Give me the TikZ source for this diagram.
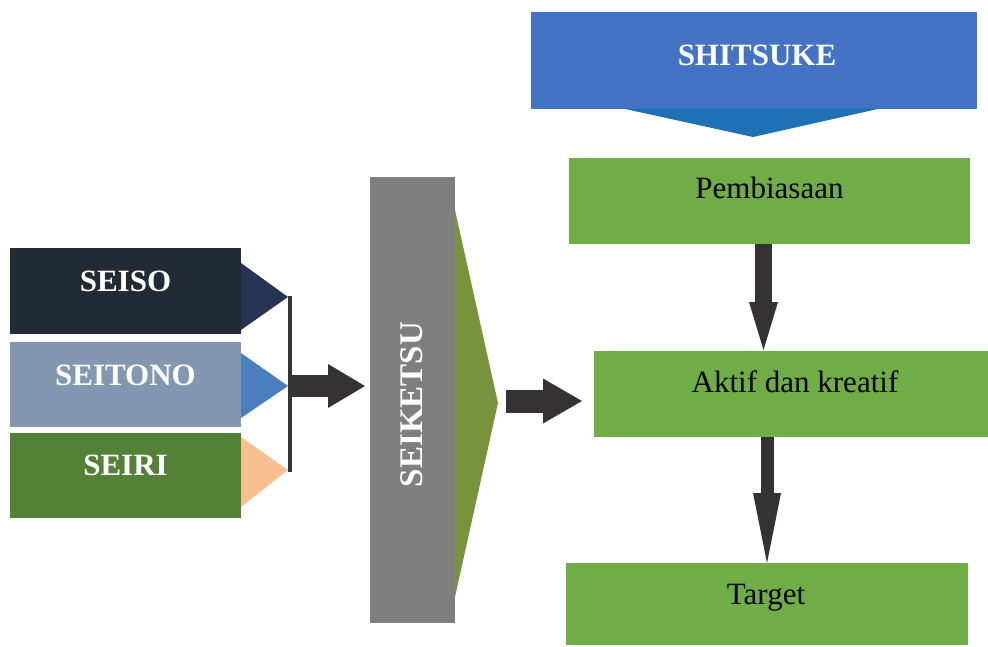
\documentclass[tikz,border=0pt]{standalone}
\usepackage{fontspec}
\setmainfont{Liberation Serif}
\usetikzlibrary{arrows.meta,calc}
\definecolor{cSeiso}{HTML}{222A35}
\definecolor{cSeisoT}{HTML}{263352}
\definecolor{cSeitono}{HTML}{8497B0}
\definecolor{cSeitonoT}{HTML}{4A7EBF}
\definecolor{cSeiri}{HTML}{538135}
\definecolor{cSeiriT}{HTML}{F8C08F}
\definecolor{cBar}{HTML}{343233}
\definecolor{cGray}{HTML}{7F7F7F}
\definecolor{cGreenT}{HTML}{77933C}
\definecolor{cShit}{HTML}{4472C4}
\definecolor{cShitT}{HTML}{1F70B5}
\definecolor{cGreen}{HTML}{70AD47}
\begin{document}
\begin{tikzpicture}[x=1pt,y=-1pt,
  box/.style={fill=#1, draw=none, inner sep=0pt, outer sep=0pt, anchor=north west},
  wlbl/.style={text=white, font=\fontsize{31}{36}\selectfont\bfseries, inner sep=0pt},
  blbl/.style={text=black, font=\fontsize{31}{36}\selectfont, inner sep=0pt},
  blockarrow/.style={draw=cBar, line width=#1}
]
\useasboundingbox (0,0) rectangle (988,646);

% left boxes
\node[box=cSeiso, minimum width=231pt, minimum height=86pt] (seiso) at (10,248) {};
\node[box=cSeitono, minimum width=231pt, minimum height=85pt] (seitono) at (10,342) {};
\node[box=cSeiri, minimum width=231pt, minimum height=85pt] (seiri) at (10,433) {};
\node[wlbl, anchor=base] at ($(seiso.center)+(0,0)$) {SEISO};
\node[wlbl, anchor=base] at ($(seitono.center)+(0,0.5)$) {SEITONO};
\node[wlbl, anchor=base] at ($(seiri.center)+(0,-0.5)$) {SEIRI};

% triangles
\fill[cSeisoT] (241,263) -- (288,297) -- (241,330) -- cycle;
\fill[cSeitonoT] (241,353) -- (288,386) -- (241,418) -- cycle;
\fill[cSeiriT] (241,437) -- (288,470) -- (241,507) -- cycle;

% bar
\coordinate (bartop) at (290,296);
\coordinate (barbot) at (290,472);
\coordinate (barmid) at (290,386);
\draw[cBar, line width=4pt] (bartop) -- (barbot);

% seiketsu
\node[box=cGray, minimum width=85pt, minimum height=446pt] (seik) at (370,177) {};
\fill[cGreenT] (seik.east |- 0,210) -- (498,403) -- (seik.east |- 0,597) -- cycle;
\node[wlbl, font=\fontsize{33}{38}\selectfont\bfseries, rotate=90] at ($(seik.center)+(-1,4.5)$) {SEIKETSU};

% right column
\node[box=cShit, minimum width=446pt, minimum height=97pt] (shit) at (531,12) {};
\fill[cShitT] (623,108.5) -- (753,137) -- (880,108.5) -- cycle;
\node[wlbl, anchor=base] at ($(shit.center)+(3,5)$) {SHITSUKE};

\node[box=cGreen, minimum width=401pt, minimum height=86pt] (pemb) at (569,158) {};
\node[box=cGreen, minimum width=394pt, minimum height=86pt] (akt) at (594,351) {};
\node[box=cGreen, minimum width=402pt, minimum height=82pt] (target) at (566,563) {};
\node[blbl, anchor=base] at ($(pemb.center)+(0,-3)$) {Pembiasaan};
\node[blbl, anchor=base] at ($(akt.center)+(4,-2)$) {Aktif dan kreatif};
\node[blbl, anchor=base] at ($(target.center)+(-1,0)$) {Target};

% arrows
\draw[blockarrow=22pt, -{Triangle[width=44pt,length=37pt,line width=0pt]}, cBar]
  (barmid) -- ($(seik.west)+(-5,-14)$);
\draw[blockarrow=23pt, -{Triangle[width=45pt,length=39pt,line width=0pt]}, cBar]
  (506,401) -- ($(akt.west)+(-12,7)$);
\draw[blockarrow=17pt, -{Triangle[width=29pt,length=48pt,line width=0pt]}, cBar]
  ($(pemb.south)+(-6,0)$) -- ($(akt.north)+(-27.5,-1)$);
\draw[blockarrow=13pt, -{Triangle[width=28pt,length=70pt,line width=0pt]}, cBar]
  ($(akt.south)+(-24,0)$) -- (target.north);
\end{tikzpicture}
\end{document}
